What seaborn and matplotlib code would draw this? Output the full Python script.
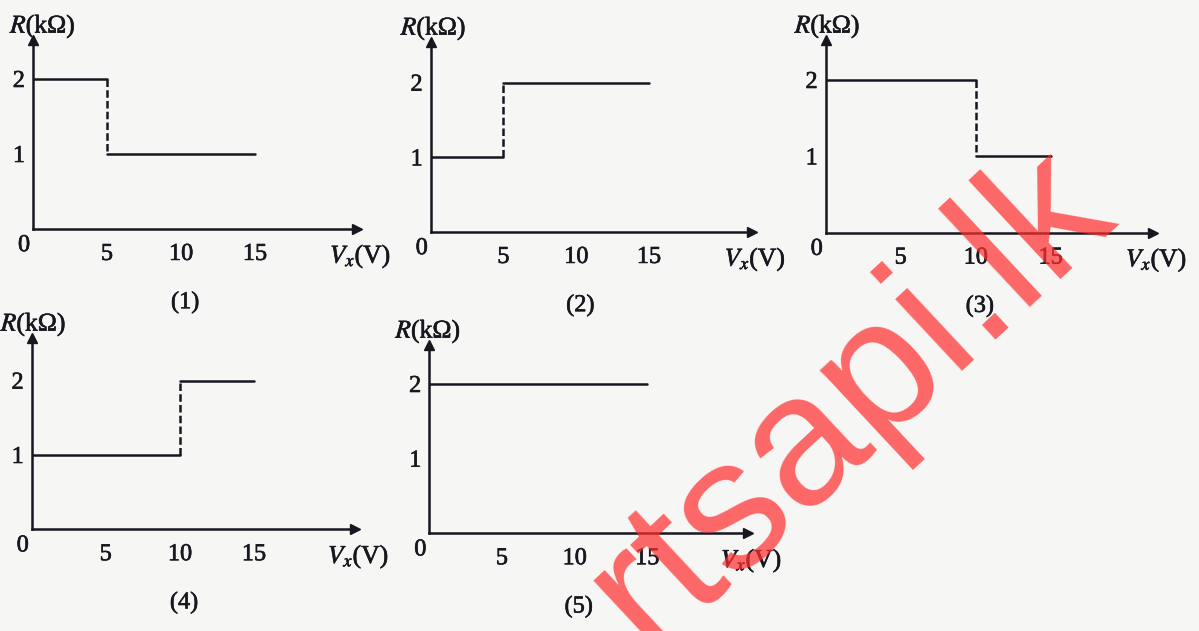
import numpy as np
import pandas as pd
import matplotlib
matplotlib.use("Agg")
import matplotlib.pyplot as plt
import matplotlib.patheffects as pe
import seaborn as sns

# data: five R vs Vx step graphs
panel_names = ["(1)", "(2)", "(3)", "(4)", "(5)"]
v_step = [5, 5, 10, 10, 15]        # voltage where R jumps
r_before = [2, 1, 2, 1, 2]         # R (kOhm) below the step
r_after = [1, 2, 1, 2, 2]          # R (kOhm) above the step
v_end = 15
x_ticks = [5, 10, 15]
y_ticks = [1, 2]

# layout in pixels: origin x, origin y, x of "15", y of "2", x arrow end, y arrow tip,
# shift of the R label
W, H = 1199, 631
layout = [
    (33.0, 229.0, 255.0, 79.0, 357.0, 40.0, 10),
    (430.7, 232.0, 649.0, 82.7, 751.7, 42.0, 3),
    (825.7, 232.7, 1050.7, 80.0, 1153.0, 40.0, 2),
    (31.7, 529.3, 254.0, 380.7, 355.0, 338.0, 2),
    (429.3, 533.3, 647.3, 384.0, 748.0, 345.0, -1),
]

ink = "#17171f"
sns.set_theme(style="white")
plt.rcParams["font.family"] = ["Liberation Serif", "DejaVu Serif"]
plt.rcParams["mathtext.fontset"] = "stix"
heavy = [pe.withStroke(linewidth=0.45, foreground=ink)]

fig = plt.figure(figsize=(W / 100, H / 100), dpi=100, facecolor="#f6f6f4")


def draw_panel(i):
    ox, oy, x15, y2, xe, yt, rdx = layout[i]
    ax = fig.add_axes([ox / W, 1 - oy / H, (xe - ox) / W, (oy - yt) / H])
    ax.set_facecolor("none")
    ax.set_xlim(0, 15 * (xe - ox) / (x15 - ox))
    ax.set_ylim(0, 2 * (oy - yt) / (oy - y2))

    solid = pd.DataFrame({
        "V": [0, v_step[i], v_step[i], v_end],
        "R": [r_before[i], r_before[i], r_after[i], r_after[i]],
        "seg": [0, 0, 1, 1],
    })
    sns.lineplot(data=solid, x="V", y="R", units="seg", estimator=None,
                 color=ink, lw=1.8, ax=ax, sort=False)
    if r_before[i] != r_after[i]:
        jump = pd.DataFrame({"V": [v_step[i], v_step[i]],
                             "R": [r_before[i], r_after[i]]})
        sns.lineplot(data=jump, x="V", y="R", estimator=None, sort=False,
                     color=ink, lw=1.8, linestyle=(0, (3, 1.3)), ax=ax)

    for s in ["top", "right"]:
        ax.spines[s].set_visible(False)
    for s in ["left", "bottom"]:
        ax.spines[s].set_color(ink)
        ax.spines[s].set_linewidth(1.8)
    ax.plot(1, 0, ">", color=ink, ms=7, transform=ax.transAxes, clip_on=False)
    ax.plot(0, 1, "^", color=ink, ms=7, transform=ax.transAxes, clip_on=False)

    ax.set_xticks(x_ticks)
    ax.set_yticks(y_ticks)
    ax.tick_params(axis="both", direction="inout", length=9.5, width=1.5,
                   color=ink, labelcolor=ink, labelsize=17.5)
    ax.tick_params(axis="x", pad=6)
    ax.tick_params(axis="y", pad=1)
    for t in ax.get_xticklabels() + ax.get_yticklabels():
        t.set_path_effects(heavy)
    ax.set_xlabel("")
    ax.set_ylabel("")

    kw = dict(textcoords="offset points", ha="center", va="center",
              fontsize=17.5, color=ink, path_effects=heavy,
              annotation_clip=False)
    ax.annotate("0", (0, 0), xytext=(-6.5, -12), **kw)
    ax.annotate("$R$(k\u03a9)", (0, 1), xycoords="axes fraction",
                xytext=(rdx * 0.72, 9.5), **dict(kw, fontsize=18.5))
    ax.annotate("$V_x$(V)", (1, 0), xycoords="axes fraction",
                xytext=(2.5, -20), **dict(kw, fontsize=18.5))
    ax.annotate(panel_names[i], (10, 0), xycoords="data",
                xytext=(3, -53), **kw)


for i in range(len(panel_names)):
    draw_panel(i)

# watermark of the scanned page
fig.text(648 / W, 1 - 652 / H, "rtsapi.lk", rotation=43, rotation_mode="anchor",
         ha="left", va="baseline", fontsize=134, fontweight="normal",
         family="Liberation Sans", color="#ff3030", alpha=0.72, zorder=10)

fig.savefig("out.png", dpi=100, facecolor=fig.get_facecolor())
